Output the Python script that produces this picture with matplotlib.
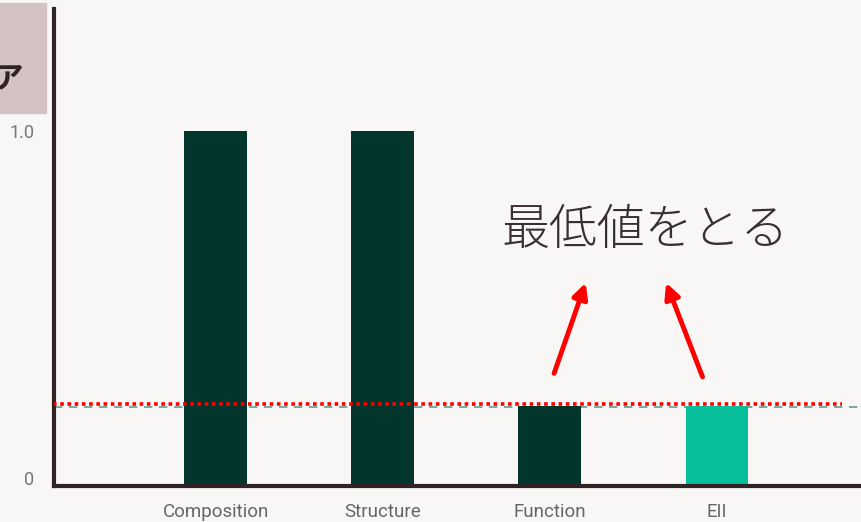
import matplotlib.pyplot as plt
from matplotlib.patches import Rectangle
from matplotlib.transforms import ScaledTranslation

plt.rcParams['font.family'] = ['Roboto', 'Noto Sans CJK JP', 'DejaVu Sans']

# data
categories = ['Composition', 'Structure', 'Function', 'EII']
scores = [1.0, 1.0, 0.225, 0.225]
bar_colors = ['#02362c', '#02362c', '#02362c', '#08bf9c']
min_score = min(scores)
ytick_vals = [0, 1.0]
ytick_labels = ['0', '1.0']

bg = '#f8f7f6'
fig = plt.figure(figsize=(8.62, 5.22), dpi=100, facecolor=bg)
ax = fig.add_axes([54 / 862, 36 / 522, 1 - 54 / 862, 477 / 522])
ax.set_facecolor(bg)

x = list(range(len(categories)))
ax.bar(x, scores, width=0.375, color=bar_colors, zorder=2)

ax.axhline(min_score - 0.002, color='#5f9f92', lw=1.2, ls=(0, (5, 4)), zorder=1)
ax.plot([-0.97, 3.75], [min_score + 0.006] * 2, color='#ff0000', lw=2.6,
        ls=(0, (1, 1)), zorder=3, solid_capstyle='butt')

ax.set_xlim(-0.967, 3.868)
ax.set_ylim(0, 1.344)
ax.set_xticks(x)
ax.set_xticklabels(categories, color='#666666', fontsize=13.5)
ax.set_yticks(ytick_vals)
ax.set_yticklabels(ytick_labels, color='#777777', fontsize=13)
ax.tick_params(length=0)
ax.tick_params(axis='y', pad=14)
ax.tick_params(axis='x', pad=12)
zero_lbl = ax.get_yticklabels()[0]
zero_lbl.set_transform(zero_lbl.get_transform() +
                       ScaledTranslation(0, 0.08, fig.dpi_scale_trans))
for s in ['top', 'right']:
    ax.spines[s].set_visible(False)
for s in ['left', 'bottom']:
    ax.spines[s].set_color('#2f2326')
    ax.spines[s].set_linewidth(3)

# arrows
arrow_kw = dict(arrowstyle='-|>,head_length=0.9,head_width=0.45', color='#ff0000', lw=3.5)
ax.annotate('', xy=(2.22, 0.58), xytext=(2.02, 0.31), arrowprops=arrow_kw)
ax.annotate('', xy=(2.69, 0.58), xytext=(2.92, 0.30), arrowprops=arrow_kw)
ax.text(2.57, 0.72, '最低値をとる', fontsize=34.5, color='#3a2f30',
        family=['Noto Sans CJK JP', 'DejaVu Sans'], fontweight='light',
        ha='center', va='center')

# title box on the left (cut off by the slide edge)
fig.patches.append(Rectangle((0, 1 - 113 / 522), 46 / 862, 110 / 522,
                             transform=fig.transFigure, color='#d3c3c5', zorder=0))
fig.text(23 / 862, 1 - 78 / 522, 'ア', fontsize=22, fontweight='bold',
         color='#2f2326', family=['Noto Sans CJK JP', 'DejaVu Sans'],
         ha='right', va='center')

fig.savefig('out.png', dpi=100, facecolor=bg)
